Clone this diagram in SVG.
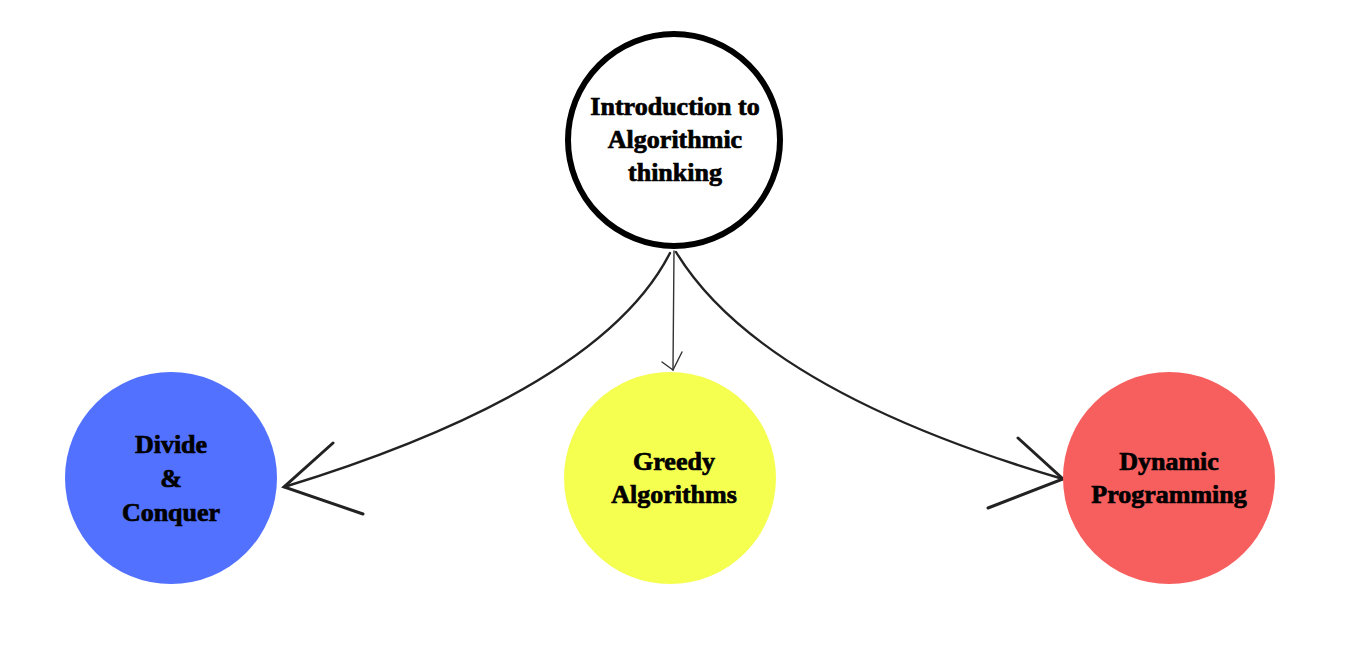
<svg xmlns="http://www.w3.org/2000/svg" width="1350" height="650" viewBox="0 0 1350 650">
  <style>
    .lbl { font-family: "Liberation Serif", "Times New Roman", serif; font-weight: bold; font-size: 26px; fill: #000; stroke: #000; stroke-width: 0.7; text-anchor: middle; }
    .edge { fill: none; stroke: #222; stroke-width: 2.4; stroke-linecap: round; }
    .thin { fill: none; stroke: #333; stroke-width: 1.4; stroke-linecap: round; }
    .head { fill: none; stroke: #222; stroke-width: 3; stroke-linecap: round; }
  </style>
  <rect width="1350" height="650" fill="#fff"/>
  <g id="connectors">
    <path class="edge" d="M670,253 Q600,390 284,487"/>
    <path class="head" d="M333,443 L284,487 L363,514"/>
    <path class="thin" d="M674,251 L673,370"/>
    <path class="thin" d="M662,362 L673,370 L682,352"/>
    <path class="edge" d="M676,252 Q760,390 1063,479"/>
    <path class="head" d="M1018,438 L1063,479 L988,508"/>
  </g>
  <g id="node-intro">
    <circle cx="674" cy="140" r="106" fill="#fff" stroke="#000" stroke-width="6"/>
    <text class="lbl" x="675" y="115">Introduction to</text>
    <text class="lbl" x="675" y="148">Algorithmic</text>
    <text class="lbl" x="675" y="181">thinking</text>
  </g>
  <g id="node-divide">
    <circle cx="171" cy="478" r="106" fill="#5271FF"/>
    <text class="lbl" x="171" y="453">Divide</text>
    <text class="lbl" x="171" y="487">&amp;</text>
    <text class="lbl" x="171" y="521">Conquer</text>
  </g>
  <g id="node-greedy">
    <circle cx="670" cy="478" r="106" fill="#F5FF50"/>
    <text class="lbl" x="674" y="470">Greedy</text>
    <text class="lbl" x="674" y="503">Algorithms</text>
  </g>
  <g id="node-dynamic">
    <circle cx="1169" cy="478" r="106" fill="#F75F5E"/>
    <text class="lbl" x="1169" y="470">Dynamic</text>
    <text class="lbl" x="1169" y="503">Programming</text>
  </g>
</svg>
